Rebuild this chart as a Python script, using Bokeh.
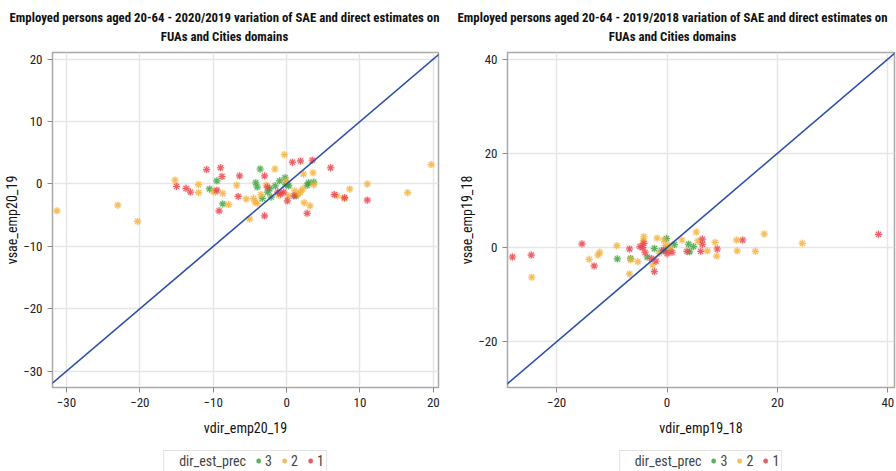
from bokeh.plotting import figure
from bokeh.layouts import row, column
from bokeh.models import Slope, Legend, LegendItem, FixedTicker, Label, Range1d
from bokeh.embed import file_html
from bokeh.resources import INLINE

# ---------------- Left panel: 2020/2019 ----------------
l_title = ["Employed persons aged 20-64 - 2020/2019 variation of SAE and direct estimates on",
           "FUAs and Cities domains"]
l_xlabel = "vdir_emp20_19"
l_ylabel = "vsae_emp20_19"
l_xticks = [-30, -20, -10, 0, 10, 20]
l_yticks = [-30, -20, -10, 0, 10, 20]

l_x3 = [-10.5, -9.5, -8.7, -4.2, -4.0, -3.6, -2.6, -2.3, -2.1, -1.55, -0.95, -0.2, -0.1, 0.05, 0.3, 1.3, 2.8, 3.0, 3.7, -3.3]
l_y3 = [-0.8, 0.5, -3.2, 0.2, -0.5, 2.4, -1.3, -0.8, -2.1, -0.3, 0.5, 1.0, -0.1, 0.1, -0.3, -1.9, -0.2, 0.2, 0.3, -2.3]

l_x2 = [-31.3, -23.0, -20.3, -15.2, -12.0, -12.0, -10.0, -9.7, -8.7, -7.9, -6.8, -5.5, -5.05, -4.5, -4.3, -4.0,
        -3.5, -2.8, -1.6, -1.1, -0.3, -0.1, 0.2, 1.1, 1.6, 1.9, 2.3, 2.2, 2.4, 3.2, 3.6, 3.7, 7.9, 8.6, 11.0,
        16.5, 19.7, 6.9]
l_y2 = [-4.3, -3.4, -6.0, 0.6, -0.1, -1.4, -1.2, -1.3, -1.5, -3.3, -0.2, -2.4, -5.6, -2.3, -2.9, -3.1,
        -1.7, -0.2, 2.4, -1.8, 4.7, 0.5, -1.9, -1.1, -1.6, -1.3, 1.6, -0.8, -3.0, -3.5, 1.8, -0.1, -2.3, -0.8, 0.0,
        -1.4, 3.1, -1.9]

l_x1 = [-15.0, -13.7, -13.1, -10.9, -9.5, -9.0, -8.8, -9.2, -6.6, -6.4, -3.0, -3.0, -2.6, -1.2, -0.8, -0.4,
        0.1, 0.8, 1.0, 1.9, 2.8, 3.5, 6.0, 6.5, 7.9, 11.0]
l_y1 = [-0.4, -0.7, -1.3, 2.3, -1.0, 2.6, 1.2, -4.3, -2.0, 1.3, 1.3, -5.1, -0.5, -1.3, -1.6, -1.3,
        -2.7, 3.5, -1.9, 3.7, -4.7, 3.8, 2.6, -1.7, -2.2, -2.6]

# ---------------- Right panel: 2019/2018 ----------------
r_title = ["Employed persons aged 20-64 - 2019/2018 variation of SAE and direct estimates on",
           "FUAs and Cities domains"]
r_xlabel = "vdir_emp19_18"
r_ylabel = "vsae_emp19_18"
r_xticks = [-20, 0, 20, 40]
r_yticks = [-20, 0, 20, 40]

r_x3 = [-9.0, -6.6, -3.6, -2.3, -1.0, -0.1, 0.3, 1.35, 3.9, 4.1, 4.8, -0.3]
r_y3 = [-2.4, -2.3, -2.0, -0.2, -0.7, 1.9, -0.2, 0.65, 0.7, -0.9, 0.2, -0.4]

r_x2 = [-24.5, -14.1, -12.5, -12.2, -9.1, -6.8, -6.6, -5.3, -4.2, -4.3, -2.6, -1.8, -0.6, -0.3, 0.6, 2.7,
        5.3, 5.6, 7.3, 9.0, 8.7, 12.6, 12.7, 16.0, 17.6, 24.5, -1.4, 0.4]
r_y2 = [-6.3, -2.5, -1.6, -1.0, 0.4, -5.6, -2.6, -3.0, 2.3, 1.4, -3.7, 2.0, 1.6, 0.4, -0.4, 1.6,
        3.3, 1.4, -0.7, -1.8, 1.1, 1.6, -0.7, -0.8, 2.9, 0.9, -1.2, 0.5]

r_x1 = [-28.0, -24.6, -15.4, -13.2, -6.8, -4.9, -4.2, -4.0, -2.3, -2.0, -2.8, -0.6, 0.0, 0.9, 3.6, 6.4,
        6.4, 6.1, 9.1, 13.7, 38.3, -4.4]
r_y1 = [-2.0, -1.6, 0.8, -3.9, -0.3, 0.2, 0.9, -1.0, -5.1, -2.9, -2.3, -0.6, -1.3, -1.0, -0.8, 1.8,
        0.7, -0.8, -0.3, 1.6, 2.8, 0.0]

legend_title = "dir_est_prec"
group_labels = ["3", "2", "1"]
group_colors = ["#3fa23f", "#f4b03a", "#e8404a"]

FONT = "Roboto Condensed"
HEAD_H, MAIN_H, LEG_H = 46, 404, 21
NAN = float("nan")


def plain(width, height, b_left=0, b_right=0):
    f = figure(width=width, height=height, x_range=Range1d(0, 1), y_range=Range1d(0, 1),
               output_backend="svg", toolbar_location=None,
               x_axis_location=None, y_axis_location=None,
               min_border_left=b_left, min_border_right=b_right,
               min_border_top=0, min_border_bottom=0)
    f.outline_line_color = None
    f.grid.visible = False
    f.background_fill_color = "white"
    f.border_fill_color = "white"
    return f


def make_header(lines):
    h = plain(448, HEAD_H)
    for txt, ypos in zip(lines, (HEAD_H - 17, HEAD_H - 36)):
        h.add_layout(Label(x=224, y=ypos, x_units="screen", y_units="screen", text=txt,
                           text_align="center", text_baseline="middle", text_font=FONT,
                           text_font_size="12.8px", text_font_style="bold",
                           text_color="#111111"))
    return h


def make_panel(xlabel, ylabel, xr, yr, xticks, yticks, groups, b_left, b_right):
    p = figure(width=448, height=MAIN_H, x_range=Range1d(*xr), y_range=Range1d(*yr),
               output_backend="svg", toolbar_location=None,
               min_border_left=b_left, min_border_right=b_right,
               min_border_top=6, min_border_bottom=63)
    p.background_fill_color = "white"
    p.border_fill_color = "white"
    p.outline_line_color = "#a9a9a9"
    p.outline_line_width = 1.5

    for ax, ticks, lab in ((p.xaxis[0], xticks, xlabel), (p.yaxis[0], yticks, ylabel)):
        ax.ticker = FixedTicker(ticks=ticks)
        ax.minor_tick_line_color = None
        ax.major_tick_in = 0
        ax.major_tick_out = 5
        ax.major_tick_line_color = "#8a8a8a"
        ax.axis_line_color = "#a9a9a9"
        ax.major_label_text_font = FONT
        ax.major_label_text_font_size = "13px"
        ax.major_label_text_color = "#222222"
        ax.axis_label = lab
        ax.axis_label_text_font = FONT
        ax.axis_label_text_font_size = "14px"
        ax.axis_label_text_font_style = "normal"
        ax.axis_label_text_color = "#111111"
        ax.major_label_standoff = 5
    p.xaxis[0].axis_label_standoff = 10
    p.yaxis[0].axis_label_standoff = 0

    p.xgrid.ticker = FixedTicker(ticks=xticks)
    p.ygrid.ticker = FixedTicker(ticks=yticks)
    p.grid.grid_line_color = "#e6e6e6"
    p.grid.grid_line_width = 1.5

    p.add_layout(Slope(gradient=1, y_intercept=0, line_color="#2b4ea8", line_width=1.6))

    for (gx, gy), col in zip(groups, group_colors):
        p.scatter(gx, gy, marker="circle", size=8, fill_color=col, fill_alpha=0.15,
                  line_color=None)
        p.scatter(gx, gy, marker="asterisk", size=7, line_color=col,
                  line_width=1.2, line_alpha=0.8)
    return p


def make_legend(b_left, b_right):
    f = plain(448, LEG_H, b_left, b_right)
    head = f.scatter(x=[NAN], y=[NAN], marker="asterisk", size=1, line_alpha=0, fill_alpha=0)
    items = [LegendItem(label=legend_title, renderers=[head])]
    for lbl, col in zip(group_labels, group_colors):
        r = f.scatter(x=[NAN], y=[NAN], marker="asterisk", size=7, line_color=col,
                      line_width=1.5, line_alpha=0.85)
        items.append(LegendItem(label=lbl, renderers=[r]))
    leg = Legend(items=items, orientation="horizontal", location="center")
    leg.label_text_font = FONT
    leg.label_text_font_size = "14px"
    leg.label_standoff = 1
    leg.label_width = 4
    leg.glyph_width = 12
    leg.glyph_height = 15
    leg.label_height = 15
    leg.spacing = 6
    leg.padding = 2
    leg.margin = 0
    leg.border_line_color = "#c8c8c8"
    leg.border_line_width = 1
    f.add_layout(leg, "center")
    return f


h1 = make_header(l_title)
h2 = make_header(r_title)
p1 = make_panel(l_xlabel, l_ylabel, (-31.9, 20.7), (-32.6, 21.06),
                l_xticks, l_yticks,
                [(l_x3, l_y3), (l_x2, l_y2), (l_x1, l_y1)], 52, 10)
p2 = make_panel(r_xlabel, r_ylabel, (-28.9, 41.2), (-29.7, 41.4),
                r_xticks, r_yticks,
                [(r_x3, r_y3), (r_x2, r_y2), (r_x1, r_y1)], 59, 2)
g1 = make_legend(52, 10)
g2 = make_legend(59, 2)

layout = column(row(h1, h2), row(p1, p2), row(g1, g2))
open("out.html", "w").write(file_html(layout, INLINE))
